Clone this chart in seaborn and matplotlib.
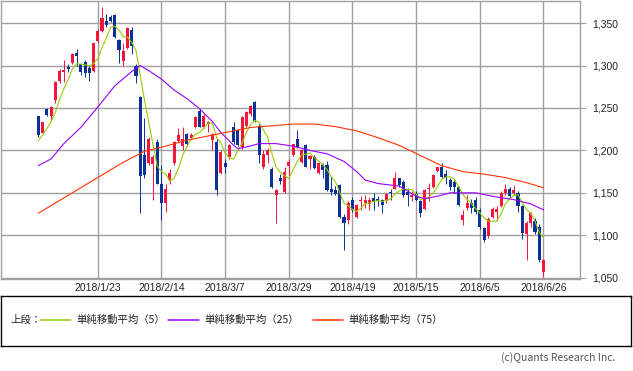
import numpy as np
import pandas as pd
import matplotlib
matplotlib.use("Agg")
import matplotlib.pyplot as plt
import seaborn as sns

# daily candles, oldest first (red = close above open, blue = close below open)
opens = [1240, 1220, 1249, 1241, 1259, 1282, 1292, 1298, 1303, 1315,
         1302, 1304, 1297, 1293, 1329, 1341, 1353, 1357, 1360, 1330,
         1305, 1321, 1342, 1300, 1263, 1194, 1185, 1184, 1210, 1161,
         1138, 1165, 1185, 1211, 1205, 1219, 1215, 1227, 1247, 1228,
         1231, 1212, 1210, 1173, 1185, 1192, 1228, 1224, 1204, 1229,
         1243, 1257, 1229, 1181, 1195, 1178, 1148, 1168, 1151, 1182,
         1194, 1214, 1186, 1206, 1190, 1192, 1173, 1183, 1183, 1154,
         1153, 1159, 1121, 1118, 1142, 1122, 1140, 1138, 1137, 1144,
         1143, 1142, 1140, 1151, 1155, 1167, 1163, 1151, 1145, 1149,
         1140, 1131, 1154, 1157, 1176, 1181, 1172, 1165, 1163, 1157,
         1118, 1132, 1138, 1142, 1130, 1108, 1099, 1122, 1128, 1135,
         1150, 1155, 1150, 1150, 1134, 1101, 1114, 1117, 1110, 1057]
highs = [1241, 1234, 1250, 1252, 1282, 1296, 1307, 1302, 1315, 1320,
         1303, 1306, 1300, 1327, 1343, 1369, 1361, 1359, 1361, 1331,
         1326, 1345, 1345, 1302, 1264, 1238, 1216, 1194, 1214, 1183,
         1160, 1178, 1211, 1226, 1227, 1221, 1220, 1240, 1249, 1243,
         1235, 1220, 1214, 1200, 1190, 1208, 1233, 1225, 1240, 1246,
         1253, 1258, 1231, 1200, 1203, 1180, 1154, 1172, 1180, 1190,
         1208, 1224, 1202, 1208, 1195, 1194, 1186, 1185, 1188, 1170,
         1158, 1161, 1125, 1140, 1145, 1137, 1146, 1148, 1145, 1150,
         1146, 1143, 1150, 1155, 1174, 1168, 1165, 1156, 1152, 1152,
         1142, 1155, 1162, 1172, 1181, 1185, 1177, 1168, 1165, 1158,
         1130, 1148, 1143, 1145, 1132, 1110, 1121, 1133, 1134, 1152,
         1160, 1157, 1159, 1152, 1136, 1117, 1128, 1120, 1113, 1072]
lows = [1216, 1219, 1241, 1235, 1256, 1279, 1280, 1292, 1302, 1300,
        1289, 1286, 1282, 1292, 1327, 1339, 1345, 1351, 1333, 1303,
        1300, 1320, 1313, 1279, 1126, 1168, 1183, 1141, 1160, 1118,
        1127, 1160, 1183, 1210, 1200, 1205, 1213, 1226, 1227, 1226,
        1222, 1200, 1147, 1172, 1173, 1190, 1208, 1205, 1202, 1228,
        1241, 1234, 1185, 1178, 1185, 1156, 1115, 1160, 1150, 1170,
        1193, 1203, 1185, 1180, 1178, 1178, 1172, 1167, 1152, 1148,
        1147, 1120, 1083, 1113, 1128, 1120, 1130, 1132, 1130, 1130,
        1135, 1126, 1138, 1142, 1154, 1157, 1145, 1134, 1140, 1140,
        1122, 1130, 1140, 1156, 1175, 1167, 1160, 1153, 1150, 1135,
        1112, 1130, 1126, 1125, 1107, 1092, 1097, 1120, 1117, 1133,
        1148, 1144, 1148, 1128, 1096, 1071, 1110, 1102, 1069, 1051]
closes = [1218, 1233, 1242, 1251, 1280, 1294, 1295, 1296, 1314, 1311,
          1292, 1291, 1291, 1326, 1341, 1356, 1348, 1353, 1334, 1318,
          1317, 1344, 1323, 1288, 1170, 1171, 1214, 1192, 1161, 1138,
          1155, 1173, 1210, 1218, 1214, 1207, 1218, 1239, 1228, 1241,
          1234, 1219, 1153, 1198, 1181, 1206, 1210, 1206, 1239, 1245,
          1252, 1235, 1194, 1196, 1201, 1157, 1153, 1164, 1175, 1186,
          1207, 1204, 1200, 1181, 1193, 1179, 1185, 1177, 1153, 1151,
          1149, 1122, 1114, 1138, 1130, 1136, 1141, 1142, 1142, 1139,
          1140, 1136, 1149, 1150, 1167, 1159, 1147, 1147, 1148, 1142,
          1126, 1153, 1156, 1171, 1180, 1169, 1167, 1157, 1157, 1136,
          1124, 1138, 1132, 1128, 1110, 1094, 1119, 1131, 1131, 1150,
          1155, 1146, 1153, 1135, 1103, 1114, 1126, 1104, 1071, 1071]
# closes of the four sessions before the window, only used to seed the 5-day average
pre_closes = [1200, 1205, 1210, 1225]

# 25-day and 75-day averages
ma25_day = [0, 3, 6, 10, 14, 18, 22, 24, 26, 29, 32, 35, 38, 41, 43, 46, 47,
            49, 52, 56, 60, 64, 68, 72, 75, 77, 80, 85, 89, 91, 94, 97, 103,
            107, 112, 116, 119]
ma25_val = [1182, 1190, 1208, 1227, 1251, 1276, 1293, 1300, 1294, 1284, 1271,
            1261, 1249, 1234, 1221, 1206, 1202, 1204, 1208, 1208, 1205, 1200,
            1196, 1187, 1175, 1165, 1161, 1158, 1146, 1143, 1146, 1150, 1150,
            1146, 1142, 1137, 1130]
ma75_day = [0, 5, 10, 15, 20, 25, 30, 35, 40, 45, 50, 55, 60, 65, 70, 75, 80,
            85, 90, 95, 100, 105, 110, 115, 119]
ma75_val = [1126, 1141, 1156, 1171, 1186, 1199, 1205, 1212, 1217, 1222, 1227,
            1229, 1231, 1231, 1228, 1223, 1215, 1206, 1194, 1182, 1175, 1172,
            1168, 1162, 1156]

date_labels = ["2018/1/23", "2018/2/14", "2018/3/7", "2018/3/29",
               "2018/4/19", "2018/5/15", "2018/6/5", "2018/6/26"]

RED = "#f5143c"
BLUE = "#0a3296"
GREEN = "#99cc00"
PURPLE = "#9900ff"
ORANGE = "#ff3300"
GRID = "#a0a0a0"

sns.set_style("white")
plt.rcParams["font.family"] = ["Noto Sans CJK JP", "DejaVu Sans"]

df = pd.DataFrame({"open": opens, "high": highs, "low": lows, "close": closes})
df["day"] = np.arange(len(df))
df["ma5"] = pd.Series(pre_closes + closes).rolling(5).mean().iloc[4:].to_numpy()
up = df["close"] >= df["open"]
colors = np.where(up, RED, BLUE)

fig = plt.figure(figsize=(6.33, 3.71), dpi=100)
ax = fig.add_axes([1 / 633, 92 / 371, 579 / 633, 278 / 371])

ax.vlines(df["day"], df["low"], df["high"], colors=colors, linewidth=0.7, zorder=2)
ax.bar(df["day"], (df["close"] - df["open"]).abs().clip(lower=0.8),
       bottom=df[["open", "close"]].min(axis=1), width=0.72,
       color=colors, linewidth=0, zorder=3)

sns.lineplot(x=df["day"], y=df["ma5"], color=GREEN, linewidth=0.8, ax=ax, zorder=4)
sns.lineplot(x=ma25_day, y=ma25_val, color=PURPLE, linewidth=0.8, ax=ax, zorder=4)
sns.lineplot(x=ma75_day, y=ma75_val, color=ORANGE, linewidth=0.8, ax=ax, zorder=4)

n = len(df)
tick_pos = list(range(n - 1, -1, -15))[:len(date_labels)][::-1]
ax.set_xticks(tick_pos)
ax.set_xticklabels(date_labels, fontsize=7.5, family="Liberation Sans", color="#222222")
ax.set_yticks(np.arange(1050, 1351, 50))
ax.set_yticklabels([f"{v:,}" for v in range(1050, 1351, 50)],
                   fontsize=7.5, family="Liberation Sans", color="#222222")
ax.yaxis.tick_right()
ax.tick_params(axis="y", length=4, width=0.8, color=GRID, pad=5, right=True, left=False)
ax.tick_params(axis="x", length=0, pad=3)
ax.set_xlim(-8.8, 127.6)
ax.set_ylim(1048.5, 1376)
ax.grid(True, color=GRID, linewidth=1)
ax.set_axisbelow(True)
ax.set_xlabel("")
ax.set_ylabel("")
for s in ax.spines.values():
    s.set_color(GRID)
    s.set_linewidth(1)

# legend strip
lax = fig.add_axes([1 / 633, (371 - 346) / 371, 630 / 633, 50 / 371])
lax.set_xlim(1, 631)
lax.set_ylim(346, 296)
lax.set_xticks([])
lax.set_yticks([])
for s in lax.spines.values():
    s.set_color("#000000")
    s.set_linewidth(1)
fs = 7.5
lax.text(10, 320, "上段：", fontsize=fs, va="center", color="#222222")
items = [(40, 71, 76, GREEN, "単純移動平均（5）"),
         (168, 199, 204, PURPLE, "単純移動平均（25）"),
         (313, 343, 348, ORANGE, "単純移動平均（75）")]
for x0, x1, xt, c, label in items:
    lax.plot([x0, x1], [320, 320], color=c, linewidth=1.1)
    lax.text(xt, 320, label, fontsize=fs, va="center", color="#222222")

fig.text(615 / 633, 1 - 358 / 371, "(c)Quants Research Inc.", ha="right", va="center",
         fontsize=7.5, color="#555555")

fig.savefig("out.png", dpi=100)
